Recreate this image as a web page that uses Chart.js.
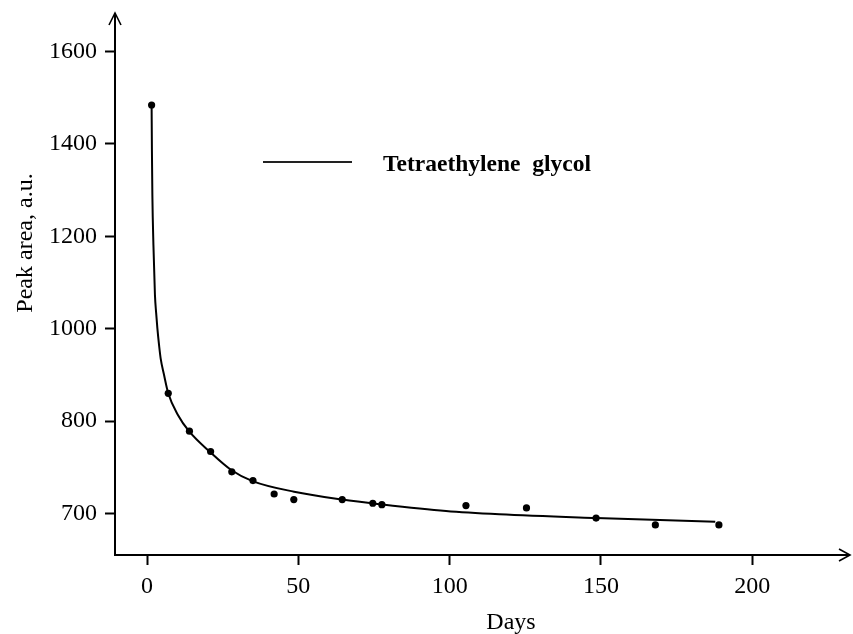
<!DOCTYPE html>
<html>
<head>
<meta charset="utf-8">
<script src="https://cdn.jsdelivr.net/npm/chart.js@4.4.1/dist/chart.umd.min.js"></script>
<style>
  html, body { margin: 0; padding: 0; background: #fff; }
</style>
</head>
<body>
<canvas id="chart" width="853" height="634"></canvas>
<script>
// Fitted curve
const curveDays = [1.5, 1.6, 1.75, 2.1, 2.6, 3.0, 3.4, 4.0, 4.5, 5.6, 7, 10.2, 13.85, 20.8, 27.8, 34.85, 48.6, 64.5, 76.8, 98.8, 116.4, 148.4, 187.8];
const curvePeak = [1484, 1387, 1289, 1181, 1073, 1034, 1001, 962, 935, 900, 860, 813, 778, 733, 694, 670, 647, 630, 620, 605, 598, 590, 582];

// Measured samples
const sampleDays = [1.5, 7, 14, 21, 28, 35, 42, 48.5, 64.5, 74.6, 77.6, 105.4, 125.4, 148.4, 168, 189];
const samplePeak = [1484, 860, 778, 734, 690, 671, 642, 630, 630, 622, 619, 617, 612, 590, 575, 575];

// Axis ticks (the bottom tick of the original is labelled 700)
const xTickValues = [0, 50, 100, 150, 200];
const yTickValues = [600, 800, 1000, 1200, 1400, 1600];
const yTickLabels = ['700', '800', '1000', '1200', '1400', '1600'];

const seriesName = 'Tetraethylene  glycol';
const serif = '"Liberation Serif", "Times New Roman", serif';

const curveData = curveDays.map((d, i) => ({ x: d, y: curvePeak[i] }));
const sampleData = sampleDays.map((d, i) => ({ x: d, y: samplePeak[i] }));

// draws arrows, axis titles and the legend
const decorations = {
    id: 'decorations',
    afterDraw(chart) {
        const ctx = chart.ctx;
        const a = chart.chartArea;
        ctx.save();
        ctx.strokeStyle = '#000';
        ctx.lineWidth = 1.6;

        // arrow on top of y axis
        ctx.beginPath();
        ctx.moveTo(a.left - 6, a.top + 11);
        ctx.lineTo(a.left, a.top - 1);
        ctx.lineTo(a.left + 6, a.top + 11);
        ctx.stroke();

        // arrow at end of x axis
        ctx.beginPath();
        ctx.moveTo(a.right - 10, a.bottom - 6);
        ctx.lineTo(a.right + 1, a.bottom);
        ctx.lineTo(a.right - 10, a.bottom + 6);
        ctx.stroke();

        ctx.fillStyle = '#000';
        ctx.font = '24px ' + serif;

        // x title
        ctx.textAlign = 'center';
        ctx.textBaseline = 'alphabetic';
        ctx.fillText('Days', 511, 629);

        // y title
        ctx.save();
        ctx.translate(32, 243);
        ctx.rotate(-Math.PI / 2);
        ctx.fillText('Peak area, a.u.', 0, 0);
        ctx.restore();

        // legend
        ctx.strokeStyle = '#222';
        ctx.lineWidth = 2;
        ctx.beginPath();
        ctx.moveTo(263, 162);
        ctx.lineTo(352, 162);
        ctx.stroke();
        ctx.font = 'bold 23.5px ' + serif;
        ctx.textAlign = 'left';
        ctx.fillText(seriesName, 383, 171);

        ctx.restore();
    }
};

new Chart(document.getElementById('chart'), {
    data: {
        datasets: [
            {
                type: 'line',
                label: seriesName,
                data: curveData,
                borderColor: '#000',
                borderWidth: 2,
                pointRadius: 0,
                cubicInterpolationMode: 'monotone',
                fill: false,
            },
            {
                type: 'scatter',
                label: 'samples',
                data: sampleData,
                backgroundColor: '#000',
                borderColor: '#000',
                pointRadius: 3.6,
                borderWidth: 0,
            },
        ],
    },
    options: {
        responsive: false,
        animation: false,
        layout: { padding: { top: 14, right: 2, left: 0, bottom: 0 } },
        plugins: {
            legend: { display: false },
            tooltip: { enabled: false },
        },
        scales: {
            x: {
                type: 'linear',
                min: -10.6,
                max: 232,
                afterFit(scale) { scale.height = 79; },
                afterBuildTicks(scale) { scale.ticks = xTickValues.map(v => ({ value: v })); },
                border: { display: true, color: '#000', width: 2 },
                grid: { drawOnChartArea: false, drawTicks: true, tickLength: 10, tickWidth: 2, tickColor: '#000' },
                ticks: { color: '#000', padding: 7, maxRotation: 0, font: { family: serif, size: 24 } },
            },
            y: {
                type: 'linear',
                min: 510,
                max: 1681,
                afterFit(scale) {
                    scale.width = 115;
                    scale.paddingTop = 0;
                    scale.paddingBottom = 0;
                },
                afterBuildTicks(scale) { scale.ticks = yTickValues.map(v => ({ value: v })); },
                border: { display: true, color: '#000', width: 2 },
                grid: { drawOnChartArea: false, drawTicks: true, tickLength: 10, tickWidth: 2, tickColor: '#000' },
                ticks: {
                    color: '#000',
                    padding: 8,
                    font: { family: serif, size: 24 },
                    callback: (value) => yTickLabels[yTickValues.indexOf(value)],
                },
            },
        },
    },
    plugins: [decorations],
});
</script>
</body>
</html>
